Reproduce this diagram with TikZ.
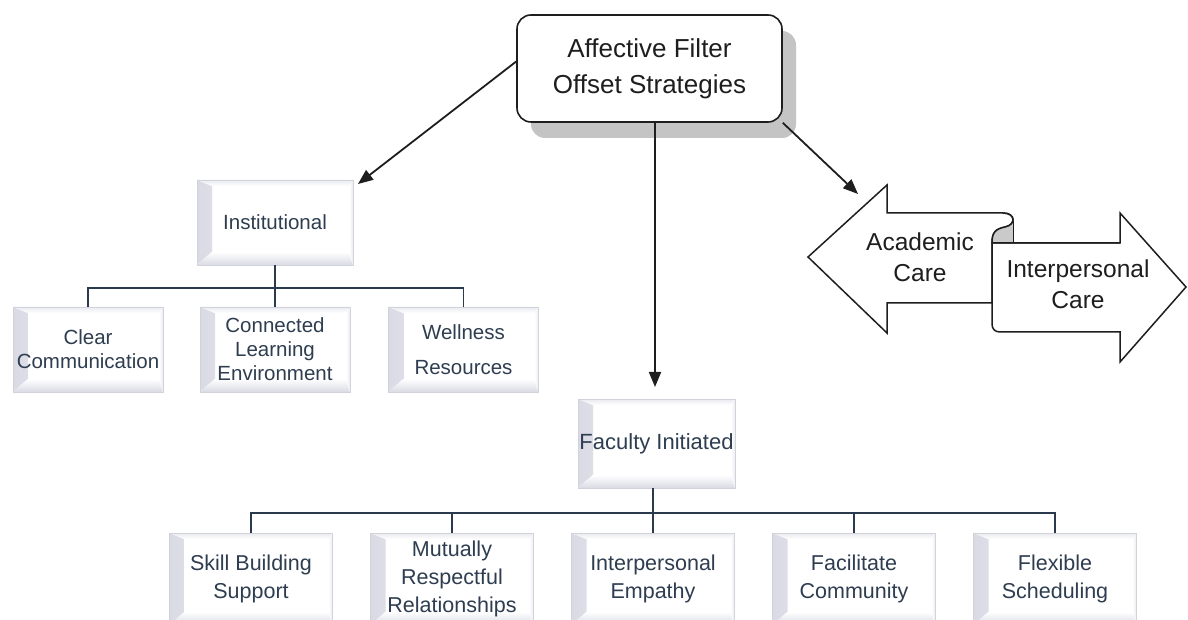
\documentclass[tikz,border=0pt]{standalone}
\usepackage{fontspec}
\setmainfont{Liberation Sans}
\usetikzlibrary{arrows.meta,shadows,calc}

\definecolor{ink}{HTML}{2E3D50}
\definecolor{treeline}{HTML}{2A3A4C}
\definecolor{bevdark}{HTML}{D9DAE4}
\definecolor{bevlight}{HTML}{E9EAF0}
\definecolor{edgegray}{HTML}{D0D3DA}
\definecolor{shadowgray}{HTML}{C4C4C4}
\definecolor{curlgray}{HTML}{CACACA}
\definecolor{outline}{HTML}{1E1E1E}

\begin{document}
\begin{tikzpicture}[x=1pt,y=1pt,
  topbox/.style={draw=outline, line width=1.6pt, rounded corners=14pt, fill=white,
    minimum width=265pt, minimum height=107pt, align=center, inner sep=0pt,
    text=outline, font=\fontsize{26}{36}\selectfont,
    drop shadow={shadow xshift=14pt, shadow yshift=-16pt, fill=shadowgray, opacity=1}},
  bevel/.style={rectangle, draw=edgegray, line width=0.9pt, fill=white, align=center,
    inner sep=0pt, text=ink,
    path picture={
      \fill[left color=bevdark, right color=white]
        let \p1=(path picture bounding box.south west),
            \p2=(path picture bounding box.north east) in
        (\x1,\y1) -- (\x1+15pt,\y1+13pt) -- (\x1+15pt,\y2-6pt) -- (\x1,\y2) -- cycle;
      \fill[top color=white, bottom color=bevdark]
        let \p1=(path picture bounding box.south west),
            \p2=(path picture bounding box.north east) in
        (\x1,\y1) -- (\x1+15pt,\y1+13pt) -- (\x2-4pt,\y1+13pt) -- (\x2,\y1) -- cycle;
      \fill[top color=bevlight, bottom color=white]
        let \p1=(path picture bounding box.south west),
            \p2=(path picture bounding box.north east) in
        (\x1,\y2) -- (\x1+15pt,\y2-6pt) -- (\x2-4pt,\y2-6pt) -- (\x2,\y2) -- cycle;
      \fill[left color=white, right color=bevlight]
        let \p1=(path picture bounding box.south west),
            \p2=(path picture bounding box.north east) in
        (\x2,\y2) -- (\x2-4pt,\y2-6pt) -- (\x2-4pt,\y1+13pt) -- (\x2,\y1) -- cycle;
    }},
  upper/.style={bevel, minimum width=150pt, minimum height=85pt, font=\fontsize{20.5}{24}\selectfont},
  lower/.style={bevel, minimum width=163pt, minimum height=92pt, font=\fontsize{21.5}{28}\selectfont},
  conn/.style={draw=outline, line width=1.8pt, -{Triangle[length=15pt,width=12pt]}},
  tree/.style={draw=treeline, line width=1.6pt},
  banner/.style={draw=outline, line width=1.5pt, fill=white, line join=miter},
  care/.style={align=center, inner sep=0pt, text=outline, font=\fontsize{24.5}{31}\selectfont}
]
\useasboundingbox (0,0) rectangle (1188,619);
\clip (0,0) rectangle (1188,619);
\fill[white] (0,0) rectangle (1188,619);

% root
\node[topbox] (top) at (649.5,550.5) {Affective Filter\\Offset Strategies};

% institutional branch
\node[bevel, minimum width=156pt, minimum height=85pt, font=\fontsize{20.5}{24}\selectfont]
  (inst) at (275,396.5) {Institutional};
\node[upper] (clear) at (88,269.5) {Clear\\Communication};
\node[upper] (connected) at (275,269.5) {Connected\\Learning\\Environment};
\node[upper] (well) at (463.5,269.5) {Wellness\\[11pt]Resources};
\coordinate (ibar) at (275,331);
\draw[tree] (inst.south) -- (connected.north);
\draw[tree] (clear.north) |- (ibar) -| (well.north);

% faculty branch
\node[bevel, minimum width=157pt, minimum height=89pt, font=\fontsize{22}{28}\selectfont]
  (fac) at (656.5,175.5) {Faculty Initiated};
\node[lower] (skill) at (251,40) {Skill Building\\Support};
\node[lower] (mutual) at (452,40) {Mutually\\Respectful\\Relationships};
\node[lower] (empathy) at (653,40) {Interpersonal\\Empathy};
\node[lower] (facil) at (854,40) {Facilitate\\Community};
\node[lower] (flex) at (1055,40) {Flexible\\Scheduling};
\coordinate (fbar) at (653,106);
\draw[tree] (empathy.north |- fac.south) -- (empathy.north);
\draw[tree] (skill.north) |- (fbar) -| (flex.north);
\draw[tree] (mutual.north) -- (mutual.north |- fbar);
\draw[tree] (facil.north) -- (facil.north |- fbar);

% academic / interpersonal care banner
\draw[banner] (808,362) -- (887,434) -- (887,406) -- (1003,406)
  .. controls (1016,406) and (1016,394) .. (1005,392)
  .. controls (995,390) and (992,386) .. (992,376)
  -- (992,316) -- (887,316) -- (887,286) -- cycle;
\draw[banner] (992,376) -- (1120,376) -- (1120,406) -- (1186,332) -- (1120,257)
  -- (1120,287) -- (1000,287) .. controls (995,287) and (992,290) .. (992,295) -- cycle;
\fill[curlgray] (1013.5,396) -- (1013.5,376) -- (992,376)
  .. controls (992,386) and (995,390) .. (1005,392)
  .. controls (1009,393) and (1012,394) .. (1013.5,396) -- cycle;
\draw[draw=outline, line width=1.5pt] (1003,406)
  .. controls (1016,406) and (1016,394) .. (1005,392)
  .. controls (995,390) and (992,386) .. (992,376) -- (1120,376);
\draw[draw=outline, line width=1.5pt] (1013.5,398) -- (1013.5,376);
\node[care] (acad) at (920,361.5) {Academic\\Care};
\node[care] (inter) at (1078,334.5) {Interpersonal\\Care};

% connectors from the root
\coordinate (instin) at (358,435);
\coordinate (facin) at (655,232);
\coordinate (carein) at (858,425);
\draw[conn] (top.177) -- (instin);
\draw[conn] (top.south -| facin) -- (facin);
\draw[conn] (top.south east) -- (carein);
\end{tikzpicture}
\end{document}
